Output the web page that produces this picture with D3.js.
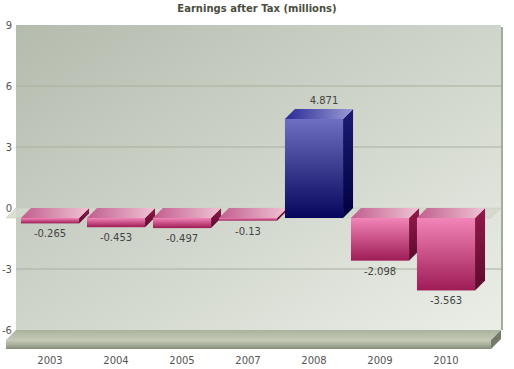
<!DOCTYPE html>
<html>
<head>
<meta charset="utf-8">
<script src="https://cdn.jsdelivr.net/npm/d3@7"></script>
<style>
  body { margin: 0; background: #fff; }
  text { font-family: "DejaVu Sans", Verdana, sans-serif; }
</style>
</head>
<body>
<svg id="chart" width="514" height="369"></svg>
<script>
let years = ['2003', '2004', '2005', '2007', '2008', '2009', '2010']
let earnings = [-0.265, -0.453, -0.497, -0.13, 4.871, -2.098, -3.563]
let yTicks = [-6, -3, 0, 3, 6, 9]

let svg = d3.select('#chart')
let defs = svg.append('defs')

// depth offset from front plane to back wall
let dx = 10
let dy = -10

let x = d3.scaleBand().domain(years).range([17, 479]).paddingInner(0.12).paddingOuter(0.06)
let y = d3.scaleLinear().domain([-6, 9]).range([340, 35])

let xLeft = 6, xRight = 491

let grad = (id, stops, x1, y1, x2, y2) => {
    let g = defs.append('linearGradient').attr('id', id)
        .attr('x1', x1).attr('y1', y1).attr('x2', x2).attr('y2', y2)
    stops.forEach((s) => {
        g.append('stop').attr('offset', s[0]).attr('stop-color', s[1])
    })
}

grad('wall', [[0, '#b4bcae'], [1, '#ebeee7']], '0%', '0%', '100%', '100%')
grad('floorTop', [[0, '#aab29c'], [1, '#c4c9b6']], '0%', '0%', '0%', '100%')
grad('floorFront', [[0, '#c6ccb8'], [0.5, '#a9b09c'], [1, '#858c7a']], '0%', '0%', '0%', '100%')
grad('pinkFront', [[0, '#f285b8'], [1, '#9e1c56']], '0%', '0%', '0%', '100%')
grad('pinkSide', [[0, '#941a4c'], [1, '#5c0a2c']], '0%', '0%', '0%', '100%')
grad('pinkTop', [[0, '#c25e8e'], [1, '#f0c4d4']], '0%', '0%', '100%', '0%')
grad('blueFront', [[0, '#6e6ec2'], [1, '#06065c']], '0%', '0%', '0%', '100%')
grad('blueSide', [[0, '#1c1c74'], [1, '#00003e']], '0%', '0%', '0%', '100%')
grad('blueTop', [[0, '#2a2a98'], [1, '#9a9ad4']], '0%', '0%', '100%', '0%')

// back wall
let wallTop = y(9) + dy
let wallBottom = y(-6) + dy
svg.append('rect')
    .attr('x', xLeft + dx).attr('y', wallTop)
    .attr('width', xRight - xLeft).attr('height', wallBottom - wallTop)
    .attr('fill', 'url(#wall)')
svg.append('rect')
    .attr('x', xRight + dx).attr('y', wallTop + 2)
    .attr('width', 2).attr('height', wallBottom - wallTop - 2)
    .attr('fill', '#a4ab9c')

// grid lines on the wall
svg.selectAll('line.grid')
    .data(yTicks.filter((t) => t !== -6 && t !== 9 && t !== 0))
    .enter()
    .append('line')
    .attr('class', 'grid')
    .attr('x1', xLeft + dx).attr('x2', xRight + dx)
    .attr('y1', (t) => y(t) + dy).attr('y2', (t) => y(t) + dy)
    .attr('stroke', '#a9b19c').attr('stroke-width', 1)

// tick labels
svg.selectAll('text.tick')
    .data(yTicks)
    .enter()
    .append('text')
    .attr('class', 'tick')
    .attr('x', 12)
    .attr('y', (t) => y(t) + dy + 3.5)
    .attr('text-anchor', 'end')
    .attr('font-size', 10)
    .attr('fill', '#555')
    .text((t) => t)

// floor
let fy = y(-6)
svg.append('path')
    .attr('d', `M${xLeft},${fy} L${xLeft + dx},${fy + dy} L${xRight + dx},${fy + dy} L${xRight},${fy} Z`)
    .attr('fill', 'url(#floorTop)')
svg.append('rect')
    .attr('x', xLeft).attr('y', fy).attr('width', xRight - xLeft).attr('height', 9)
    .attr('fill', 'url(#floorFront)')
svg.append('path')
    .attr('d', `M${xRight},${fy} L${xRight + dx},${fy + dy} L${xRight + dx},${fy + dy + 9} L${xRight},${fy + 9} Z`)
    .attr('fill', '#737a69')

// zero plane
let zy = y(0)
svg.append('path')
    .attr('d', `M${xLeft},${zy} L${xLeft + dx},${zy + dy} L${xRight + dx},${zy + dy} L${xRight},${zy} Z`)
    .attr('fill', '#d4d8cc').attr('fill-opacity', 0.85)
    .attr('stroke', '#c4c8bb').attr('stroke-width', 0.5)

// bars
let bars = svg.selectAll('g.bar')
    .data(earnings)
    .enter()
    .append('g')
    .attr('class', 'bar')

let bw = x.bandwidth()
let bx = (d, i) => x(years[i])
let barTop = (d) => y(Math.max(d, 0))
let barBottom = (d) => y(Math.min(d, 0))
let kind = (d) => d >= 0 ? 'blue' : 'pink'

bars.append('path')
    .attr('d', (d, i) => {
        let x0 = bx(d, i)
        return `M${x0 + bw},${barTop(d)} L${x0 + bw + dx},${barTop(d) + dy} L${x0 + bw + dx},${barBottom(d) + dy} L${x0 + bw},${barBottom(d)} Z`
    })
    .attr('fill', (d) => `url(#${kind(d)}Side)`)

bars.append('rect')
    .attr('x', (d, i) => bx(d, i))
    .attr('y', (d) => barTop(d))
    .attr('width', bw)
    .attr('height', (d) => barBottom(d) - barTop(d))
    .attr('fill', (d) => `url(#${kind(d)}Front)`)

bars.append('path')
    .attr('d', (d, i) => {
        let x0 = bx(d, i)
        let t = barTop(d)
        return `M${x0},${t} L${x0 + dx},${t + dy} L${x0 + bw + dx},${t + dy} L${x0 + bw},${t} Z`
    })
    .attr('fill', (d) => `url(#${kind(d)}Top)`)

// value labels
bars.append('text')
    .attr('x', (d, i) => bx(d, i) + bw / 2 + (d >= 0 ? dx : 0))
    .attr('y', (d) => d >= 0 ? barTop(d) + dy - 5 : barBottom(d) + 14)
    .attr('text-anchor', 'middle')
    .attr('font-size', 10)
    .attr('fill', '#444')
    .text((d) => d)

// category labels
svg.selectAll('text.cat')
    .data(years)
    .enter()
    .append('text')
    .attr('class', 'cat')
    .attr('x', (d) => x(d) + bw / 2)
    .attr('y', 364)
    .attr('text-anchor', 'middle')
    .attr('font-size', 10)
    .attr('fill', '#555')
    .text((d) => d)

// title
svg.append('text')
    .attr('x', 257).attr('y', 12)
    .attr('text-anchor', 'middle')
    .attr('font-size', 10)
    .attr('font-weight', 'bold')
    .attr('fill', '#4a4e40')
    .text('Earnings after Tax (millions)')
</script>
</body>
</html>
